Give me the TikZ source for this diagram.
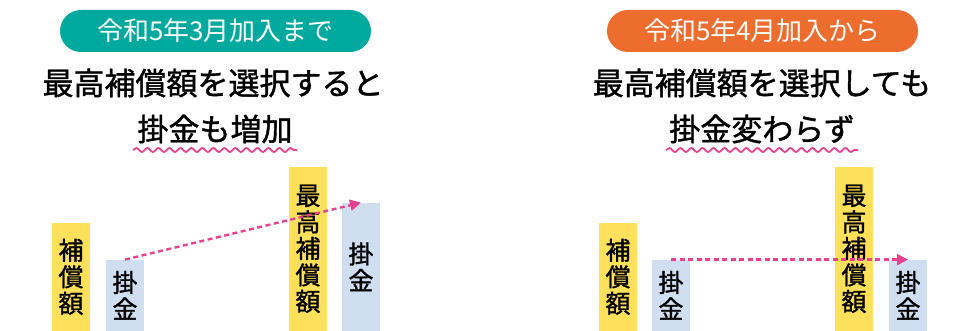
\documentclass[tikz,border=0pt]{standalone}
\usepackage{fontspec}
\setmainfont{Noto Sans CJK JP}
\newfontfamily\jpmed{Noto Sans CJK JP}[FakeBold=1.3]
\usetikzlibrary{decorations.pathmorphing,arrows.meta}
\definecolor{pillgreen}{HTML}{00A99D}
\definecolor{pillorange}{HTML}{EC6D2D}
\definecolor{baryellow}{HTML}{FFE05A}
\definecolor{barblue}{HTML}{CFDFF1}
\definecolor{accentpink}{HTML}{E8428F}
\begin{document}
\begin{tikzpicture}[x=1pt,y=-1pt,
  pill/.style={rounded corners=21pt, minimum width=311pt, minimum height=42pt, inner sep=0pt,
    text=white, font=\fontsize{26}{28}\selectfont},
  heading/.style={inner sep=0pt, font=\jpmed\fontsize{31}{33}\selectfont},
  bar/.style={inner sep=0pt, minimum width=38pt, anchor=south, align=center,
    font=\jpmed\fontsize{25}{26.5}\selectfont},
  ybar/.style={bar, fill=baryellow},
  bbar/.style={bar, fill=barblue},
  arr/.style={accentpink, line width=2.4pt, dash pattern=on 5pt off 3.5pt,
    -{Triangle[length=11pt,width=11pt]}},
  wave/.style={accentpink, line width=1.8pt, decorate,
    decoration={snake, segment length=11pt, amplitude=2pt}}
]
\useasboundingbox (0,0) rectangle (966,331);
% pills
\node[pill, fill=pillgreen] (p1) at (215.5,31) {令和5年3月加入まで};
\node[pill, fill=pillorange] (p2) at (762.5,31) {令和5年4月加入から};
% headings
\node[heading] (h1) at (213,83) {最高補償額を選択すると};
\node[heading] (h2) at (215,129) {掛金も増加};
\node[heading] (h3) at (762,83) {最高補償額を選択しても};
\node[heading] (h4) at (762,129) {掛金変わらず};
\coordinate (u1a) at (133,150);
\coordinate (u1b) at (297,150);
\coordinate (u2a) at (666,150);
\coordinate (u2b) at (858,150);
\draw[wave] (u1a) -- (u1b);
\draw[wave] (u2a) -- (u2b);
% left bars
\node[ybar, minimum height=108pt] (b1) at (71,331) {補\\償\\額};
\node[bbar, minimum height=71pt] (b2) at (125,331) {掛\\金};
\node[ybar, minimum height=164pt] (b3) at (308,331) {最\\高\\補\\償\\額};
\node[bbar, minimum height=128pt] (b4) at (361,331) {掛\\金};
% right bars
\node[ybar, minimum height=108pt] (b5) at (618,331) {補\\償\\額};
\node[bbar, minimum height=71pt] (b6) at (671,331) {掛\\金};
\node[ybar, minimum height=164pt] (b7) at (854,331) {最\\高\\補\\償\\額};
\node[bbar, minimum height=71pt] (b8) at (908,331) {掛\\金};
% arrows
\draw[arr] (b2.north) -- (b4.north);
\draw[arr] (b6.north) -- (b8.north);
\end{tikzpicture}
\end{document}
